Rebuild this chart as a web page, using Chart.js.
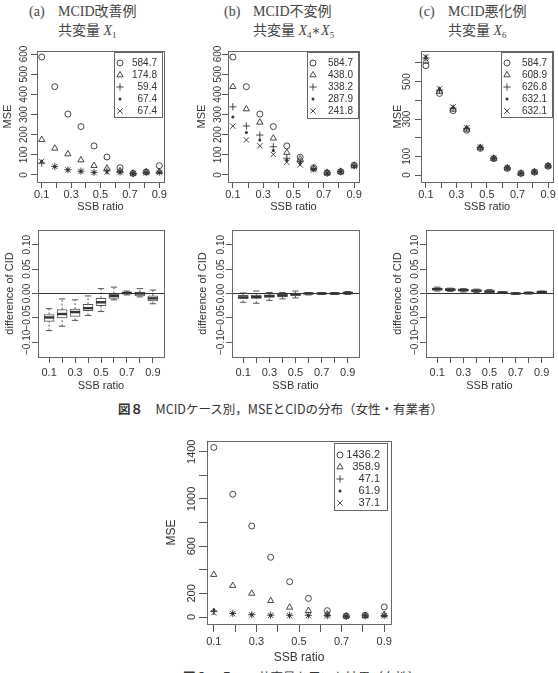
<!DOCTYPE html>
<html lang="ja">
<head>
<meta charset="utf-8">
<title>MCID</title>
<script src="https://cdn.jsdelivr.net/npm/chart.js@4.4.1/dist/chart.umd.min.js"></script>
<style>
  html, body { margin: 0; padding: 0; background: #fff; }
  body { position: relative; width: 558px; height: 673px; overflow: hidden; }
  canvas { position: absolute; }
  .ttl { position: absolute; font-family: 'Liberation Serif', 'DejaVu Serif', 'Noto Sans CJK JP', serif; font-size: 14px; line-height: 16px; color: #444; white-space: nowrap; }
  .ttl sub { font-size: 9px; vertical-align: -3px; line-height: 0; }
  .cap { position: absolute; font-family: 'Noto Sans CJK JP', sans-serif; font-size: 12.5px; line-height: 16px; color: #333; white-space: nowrap; }
  .cap b { font-weight: 700; }
</style>
</head>
<body>
<div class="ttl" style="left:29px;top:4px">(a)</div>
<div class="ttl" style="left:58px;top:4px">MCID改善例</div>
<div class="ttl" style="left:58px;top:23px">共変量 <i>X</i><sub>1</sub></div>
<div class="ttl" style="left:224px;top:4px">(b)</div>
<div class="ttl" style="left:253px;top:4px">MCID不変例</div>
<div class="ttl" style="left:253px;top:23px">共変量 <i>X</i><sub>4</sub>∗<i>X</i><sub>5</sub></div>
<div class="ttl" style="left:419px;top:4px">(c)</div>
<div class="ttl" style="left:448px;top:4px">MCID悪化例</div>
<div class="ttl" style="left:448px;top:23px">共変量 <i>X</i><sub>6</sub></div>
<div class="cap" style="left:118px;top:401px"><b>図８</b>　MCIDケース別，MSEとCIDの分布（女性・有業者）</div>
<div class="cap" style="left:183px;top:669px"><b>図９</b>　５つの共変量を用いた結果（女性）</div>
<script>
// x positions
const ssbPoints = [0.100, 0.189, 0.278, 0.367, 0.456, 0.544, 0.633, 0.722, 0.811, 0.900];
const ssbBoxes = [0.1, 0.2, 0.3, 0.4, 0.5, 0.6, 0.7, 0.8, 0.9];
const ssbTickLabels = ['0.1', '', '0.3', '', '0.5', '', '0.7', '', '0.9'];

// y ticks
const mseTicks = [0, 100, 200, 300, 400, 500, 600];
const mseTickLabels = ['0', '100', '200', '300', '400', '500', '600'];
const mseTickLabelsC = ['0', '100', '', '300', '', '500', ''];
const mseTicksAll = [0, 200, 400, 600, 800, 1000, 1200, 1400];
const mseTickLabelsAll = ['0', '200', '', '600', '', '1000', '', '1400'];
const cidTicks = [-0.10, -0.05, 0, 0.05, 0.10];
const cidTickLabels = ['−0.10', '−0.05', '0.00', '0.05', '0.10'];

// (a) MCID improving, covariate X1
const legendA = ['584.7', '174.8', '59.4', '67.4', '67.4'];
const aCircle = [585, 438, 302, 240, 144, 89, 36, 8, 15, 46];
const aTriangle = [175, 132, 104, 74, 46, 33, 20, 8, 14, 16];
const aPlus = [59, 42, 26, 19, 13, 20, 15, 7, 12, 14];
const aDot = [67, 41, 25, 18, 12, 14, 13, 7, 11, 12];
const aCross = [67, 42, 25, 18, 12, 15, 12, 7, 11, 12];

// (b) MCID unchanged, covariate X4*X5
const legendB = ['584.7', '438.0', '338.2', '287.9', '241.8'];
const bCircle = [585, 438, 302, 240, 144, 88, 36, 10, 16, 48];
const bTriangle = [438, 327, 261, 182, 111, 78, 32, 11, 17, 47];
const bPlus = [338, 243, 198, 140, 83, 66, 30, 10, 17, 46];
const bDot = [288, 210, 174, 121, 74, 58, 28, 10, 16, 45];
const bCross = [242, 174, 145, 102, 63, 50, 25, 10, 16, 44];

// (c) MCID worsening, covariate X6
const legendC = ['584.7', '608.9', '626.8', '632.1', '632.1'];
const cCircle = [585, 437, 345, 240, 143, 88, 36, 9, 16, 48];
const cTriangle = [609, 447, 352, 245, 146, 89, 37, 9, 17, 49];
const cPlus = [627, 455, 358, 250, 148, 90, 38, 10, 17, 49];
const cDot = [632, 460, 362, 252, 149, 90, 38, 10, 18, 50];
const cCross = [632, 462, 364, 253, 150, 90, 38, 10, 18, 50];

// difference of CID boxplots: whisker low, Q1, median, Q3, whisker high
const aLo = [-0.076, -0.067, -0.055, -0.045, -0.037, -0.013, -0.003, -0.007, -0.021];
const aQ1 = [-0.057, -0.050, -0.047, -0.035, -0.025, -0.010, -0.001, -0.005, -0.015];
const aMed = [-0.049, -0.042, -0.038, -0.030, -0.018, -0.005, 0.001, 0.000, -0.010];
const aQ3 = [-0.043, -0.033, -0.032, -0.022, -0.010, 0.000, 0.003, 0.003, -0.005];
const aHi = [-0.031, -0.011, -0.013, -0.005, 0.010, 0.013, 0.005, 0.010, 0.007];

const bLo = [-0.018, -0.020, -0.014, -0.011, -0.009, -0.003, -0.002, -0.002, -0.002];
const bQ1 = [-0.010, -0.010, -0.008, -0.007, -0.004, -0.001, -0.001, -0.001, -0.001];
const bMed = [-0.008, -0.007, -0.005, -0.004, -0.002, 0.000, 0.000, 0.000, 0.001];
const bQ3 = [-0.004, -0.003, -0.003, -0.001, 0.000, 0.001, 0.001, 0.001, 0.003];
const bHi = [0.001, 0.005, 0.002, 0.002, 0.005, 0.002, 0.002, 0.002, 0.004];

const cLo = [0.005, 0.004, 0.003, 0.002, 0.000, 0.000, -0.002, -0.001, 0.000];
const cQ1 = [0.007, 0.006, 0.005, 0.004, 0.002, 0.001, -0.001, 0.000, 0.001];
const cMed = [0.009, 0.008, 0.007, 0.006, 0.004, 0.002, 0.000, 0.001, 0.003];
const cQ3 = [0.011, 0.010, 0.009, 0.007, 0.006, 0.003, 0.001, 0.002, 0.004];
const cHi = [0.013, 0.011, 0.010, 0.009, 0.008, 0.004, 0.002, 0.003, 0.005];

// fig 9: five covariates
const legendAll = ['1436.2', '358.9', '47.1', '61.9', '37.1'];
const allCircle = [1436, 1040, 771, 506, 299, 158, 54, 8, 15, 85];
const allTriangle = [359, 266, 200, 138, 82, 54, 24, 8, 12, 20];
const allPlus = [47, 30, 20, 16, 15, 15, 12, 7, 10, 12];
const allDot = [62, 32, 20, 15, 14, 14, 12, 7, 10, 11];
const allCross = [37, 28, 18, 14, 12, 12, 10, 6, 9, 10];

const FONT = "'Liberation Sans', Arial, sans-serif";
const INK = '#333';
const FRAME = '#666';
Chart.defaults.font.family = FONT;
Chart.defaults.color = INK;

const markers = [
  { pointStyle: 'circle', pointRadius: 3, pointBorderWidth: 0.9, filled: false },
  { pointStyle: 'triangle', pointRadius: 3.6, pointBorderWidth: 0.9, filled: false },
  { pointStyle: 'cross', pointRadius: 3.6, pointBorderWidth: 0.9, filled: false },
  { pointStyle: 'circle', pointRadius: 1.5, pointBorderWidth: 0, filled: true },
  { pointStyle: 'crossRot', pointRadius: 3.8, pointBorderWidth: 0.9, filled: false }
];

const PAD_T = 16, PAD_R = 14;

function measure(text, size) {
  const ctx = document.createElement('canvas').getContext('2d');
  ctx.font = size + 'px ' + FONT;
  return ctx.measureText(text).width;
}

function placeCanvas(left, top, w, h) {
  const c = document.createElement('canvas');
  c.width = w;
  c.height = h;
  c.style.left = left + 'px';
  c.style.top = top + 'px';
  document.body.appendChild(c);
  return c;
}

const framePlugin = {
  id: 'frame',
  afterDraw(chart) {
    const a = chart.chartArea, ctx = chart.ctx;
    ctx.save();
    ctx.strokeStyle = FRAME;
    ctx.lineWidth = 1;
    ctx.strokeRect(Math.floor(a.left) + 0.5, Math.floor(a.top) + 0.5,
      Math.round(a.right - a.left), Math.round(a.bottom - a.top));
    ctx.restore();
  }
};

function boxLegend(cfg) {
  return {
    id: 'boxLegend',
    afterDraw(chart) {
      const a = chart.chartArea, ctx = chart.ctx;
      const x1 = Math.round(a.right - cfg.inset[0]);
      const y0 = Math.round(a.top + cfg.inset[1]);
      const x0 = x1 - cfg.w;
      ctx.save();
      ctx.fillStyle = '#fff';
      ctx.fillRect(x0, y0, cfg.w, cfg.h);
      ctx.strokeStyle = FRAME;
      ctx.lineWidth = 1;
      ctx.strokeRect(x0 + 0.5, y0 + 0.5, cfg.w, cfg.h);
      ctx.font = cfg.font + 'px ' + FONT;
      ctx.textAlign = 'right';
      ctx.textBaseline = 'middle';
      chart.data.datasets.forEach((ds, i) => {
        const y = y0 + cfg.first + i * cfg.step;
        ctx.strokeStyle = INK;
        ctx.fillStyle = ds.pointBackgroundColor;
        ctx.lineWidth = ds.pointBorderWidth;
        Chart.helpers.drawPoint(ctx, {
          pointStyle: ds.pointStyle, radius: ds.pointRadius,
          borderWidth: ds.pointBorderWidth, rotation: 0
        }, x0 + cfg.sym, y);
        ctx.fillStyle = INK;
        ctx.fillText(ds.label, x1 - cfg.txt, y);
      });
      ctx.restore();
    }
  };
}

function axes(g, x, y) {
  const lh = g.titleFont * 1.2;
  const xLh = g.xFont * 1.2;
  const widest = Math.max(...y.labels.map(s => measure(s, g.yFont)));
  return {
    x: {
      type: 'linear', min: x.lim[0], max: x.lim[1], offset: false,
      afterBuildTicks: s => { s.ticks = x.ticks.map(v => ({ value: v })); },
      afterFit: s => { s.height = g.xH; },
      ticks: {
        autoSkip: false, maxRotation: 0, minRotation: 0,
        font: { size: g.xFont }, color: INK,
        padding: g.xLabelY - g.box[3] - g.tl - xLh / 2,
        callback: (v, i) => x.labels[i]
      },
      grid: { drawOnChartArea: false, offset: false, tickLength: g.tl, color: '#555', lineWidth: 1 },
      border: { display: false },
      title: {
        display: true, text: 'SSB ratio', color: INK, font: { size: g.titleFont },
        padding: { top: 0, bottom: 8 - lh / 2 }
      }
    },
    y: {
      type: 'linear', min: y.lim[0], max: y.lim[1],
      afterBuildTicks: s => { s.ticks = y.ticks.map(v => ({ value: v })); },
      afterFit: s => { s.width = g.yW; },
      ticks: {
        autoSkip: false, minRotation: 90, maxRotation: 90, crossAlign: 'center',
        font: { size: g.yFont }, color: INK,
        padding: (g.box[0] - g.yLabelX) - g.tl - widest / 2,
        callback: (v, i) => y.labels[i]
      },
      grid: { drawOnChartArea: false, tickLength: g.tl, color: '#555', lineWidth: 1 },
      border: { display: false },
      title: {
        display: true, text: y.title, color: INK, font: { size: g.titleFont },
        padding: { top: 8 - lh / 2, bottom: 0 }
      }
    }
  };
}

function prepare(g) {
  const left = g.yTitleX - 8, top = g.box[1] - PAD_T, bottom = g.xTitleY + 8;
  g.yW = g.box[0] - left;
  g.xH = bottom - g.box[3];
  return placeCanvas(left, top, g.box[2] - left + PAD_R, bottom - top);
}

function scatterPanel(g, labels, series, y, legendCfg) {
  const canvas = prepare(g);
  new Chart(canvas, {
    type: 'scatter',
    data: {
      datasets: series.map((vals, k) => ({
        label: labels[k],
        data: vals.map((v, i) => ({ x: ssbPoints[i], y: v })),
        pointStyle: markers[k].pointStyle,
        pointRadius: markers[k].pointRadius,
        pointBorderWidth: markers[k].pointBorderWidth,
        pointBorderColor: INK,
        pointBackgroundColor: markers[k].filled ? INK : 'rgba(0,0,0,0)'
      }))
    },
    options: {
      responsive: false, animation: false, events: [],
      layout: { padding: { top: PAD_T, right: PAD_R, left: 0, bottom: 0 } },
      plugins: { legend: { display: false }, tooltip: { enabled: false } },
      scales: axes(g, { lim: [0.068, 0.932], ticks: ssbBoxes, labels: ssbTickLabels }, y)
    },
    plugins: [framePlugin, boxLegend(legendCfg)]
  });
}

function boxPanel(g, lo, q1, med, q3, hi) {
  const canvas = prepare(g);
  const xLim = [0.014, 0.986];
  const whiskers = [];
  ssbBoxes.forEach((x, i) => {
    whiskers.push({ x, y: lo[i] }, { x, y: q1[i] }, { x, y: null },
      { x, y: q3[i] }, { x, y: hi[i] }, { x, y: null });
  });
  const caps = [];
  ssbBoxes.forEach((x, i) => { caps.push({ x, y: lo[i] }, { x, y: hi[i] }); });
  new Chart(canvas, {
    type: 'scatter',
    data: {
      datasets: [
        { type: 'line', data: [{ x: xLim[0], y: 0 }, { x: xLim[1], y: 0 }], showLine: true,
          borderColor: INK, borderWidth: 1, pointRadius: 0, order: 0 },
        { type: 'scatter', data: ssbBoxes.map((x, i) => ({ x, y: med[i] })),
          pointStyle: 'line', pointRadius: 5, pointBorderWidth: 2.4, pointBorderColor: INK, order: 1 },
        { type: 'scatter', data: caps,
          pointStyle: 'line', pointRadius: 3.2, pointBorderWidth: 1, pointBorderColor: '#555', order: 1 },
        { type: 'bar', data: ssbBoxes.map((x, i) => ({ x, y: [q1[i], q3[i]] })),
          backgroundColor: '#fff', borderColor: '#555', borderWidth: 1, borderSkipped: false,
          barThickness: 10, order: 2 },
        { type: 'line', data: whiskers, showLine: true, spanGaps: false,
          borderColor: '#555', borderWidth: 1, borderDash: [2, 2], pointRadius: 0, order: 3 }
      ]
    },
    options: {
      responsive: false, animation: false, events: [],
      layout: { padding: { top: PAD_T, right: PAD_R, left: 0, bottom: 0 } },
      plugins: { legend: { display: false }, tooltip: { enabled: false } },
      scales: axes(g, { lim: xLim, ticks: ssbBoxes, labels: ssbTickLabels },
        { lim: [-0.13, 0.13], ticks: cidTicks, labels: cidTickLabels, title: 'difference of CID' })
    },
    plugins: [framePlugin]
  });
}

const topRow = { tl: 6, xFont: 11, yFont: 10, titleFont: 11, xLabelY: 195, xTitleY: 207 };
const midRow = { tl: 6, xFont: 11, yFont: 10, titleFont: 11, xLabelY: 373, xTitleY: 386 };
const legendTop = { w: 48, h: 65, inset: [2, 1], first: 11, step: 12, sym: 6, txt: 5, font: 10 };

scatterPanel(Object.assign({ box: [37, 51, 164, 182], yTitleX: 8, yLabelX: 24 }, topRow),
  legendA, [aCircle, aTriangle, aPlus, aDot, aCross],
  { lim: [-35, 615], ticks: mseTicks, labels: mseTickLabels, title: 'MSE' }, legendTop);

scatterPanel(Object.assign({ box: [228, 51, 359, 182], yTitleX: 202, yLabelX: 218 }, topRow),
  legendB, [bCircle, bTriangle, bPlus, bDot, bCross],
  { lim: [-35, 615], ticks: mseTicks, labels: mseTickLabels, title: 'MSE' },
  Object.assign({}, legendTop, { w: 51, h: 66, inset: [1, 1] }));

scatterPanel(Object.assign({ box: [421, 51, 553, 182], yTitleX: 398, yLabelX: 407 }, topRow),
  legendC, [cCircle, cTriangle, cPlus, cDot, cCross],
  { lim: [-37, 664], ticks: mseTicks, labels: mseTickLabelsC, title: 'MSE' },
  Object.assign({}, legendTop, { w: 51, h: 65, inset: [1, 1] }));

boxPanel(Object.assign({ box: [38, 230, 164, 357], yTitleX: 10, yLabelX: 27 }, midRow), aLo, aQ1, aMed, aQ3, aHi);
boxPanel(Object.assign({ box: [232, 230, 359, 357], yTitleX: 203, yLabelX: 221 }, midRow), bLo, bQ1, bMed, bQ3, bHi);
boxPanel(Object.assign({ box: [426, 230, 553, 357], yTitleX: 398, yLabelX: 415 }, midRow), cLo, cQ1, cMed, cQ3, cHi);

scatterPanel({ box: [207, 441, 391, 624], yTitleX: 172, yLabelX: 192, tl: 8, xFont: 11, yFont: 11,
    titleFont: 12, xLabelY: 642, xTitleY: 658 },
  legendAll, [allCircle, allTriangle, allPlus, allDot, allCross],
  { lim: [-59, 1491], ticks: mseTicksAll, labels: mseTickLabelsAll, title: 'MSE' },
  { w: 53, h: 67, inset: [4, 2], first: 12, step: 12, sym: 6, txt: 7, font: 11 });
</script>
</body>
</html>
